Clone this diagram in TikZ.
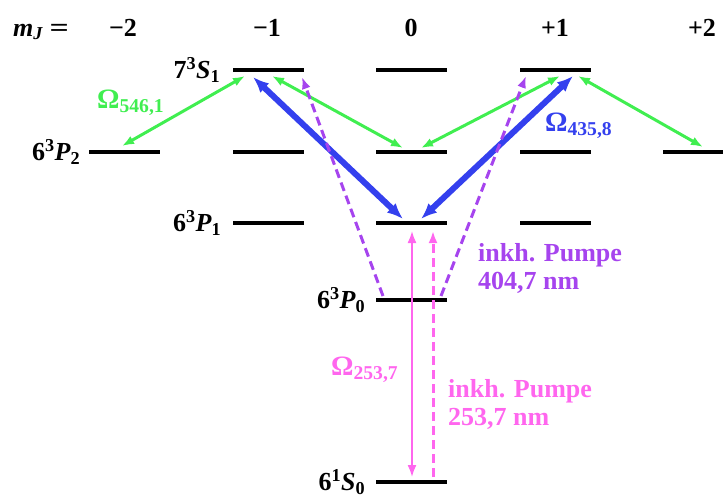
\documentclass[tikz,border=0pt]{standalone}
\usepackage{fontspec}
\setmainfont{Liberation Serif}
\usetikzlibrary{arrows.meta,positioning,calc}
\definecolor{transgreen}{RGB}{64,238,80}
\definecolor{transblue}{RGB}{52,64,238}
\definecolor{transviolet}{RGB}{166,68,238}
\definecolor{transpink}{RGB}{255,102,238}
\tikzset{
  energylevel/.style={fill=black, minimum width=71pt, minimum height=4.4pt,
    inner sep=0pt, outer sep=0pt},
  termlabel/.style={inner sep=0pt},
  omegalabel/.style={anchor=base west, inner sep=0pt,
    font=\fontsize{28}{30}\selectfont\bfseries},
  greenline/.style={{Latex[length=12pt,width=9pt]}-{Latex[length=12pt,width=9pt]},
    line width=3pt, transgreen},
  blueline/.style={{Latex[length=16pt,width=13pt]}-{Latex[length=16pt,width=13pt]},
    line width=6pt, transblue},
  pumpline/.style={-{Latex[length=12pt,width=9pt]}, line width=3pt,
    dash pattern=on 9pt off 5pt},
  pinkline/.style={{Latex[length=12pt,width=9pt]}-{Latex[length=12pt,width=9pt]},
    line width=1.8pt, transpink},
}
\begin{document}
\begin{tikzpicture}[x=1pt, y=-1pt, font=\fontsize{26}{28}\selectfont\bfseries]
  \useasboundingbox (0,0) rectangle (723,498);
  % m_J header
  \node[anchor=base west, inner sep=0pt] (mj) at (13,36)
    {\textit{m}\textsubscript{\textit{J}}\hspace{6pt}\scalebox{1.3}[1]{=}};
  \node[anchor=base] (hm2) at (123,36) {−2};
  \node[anchor=base] (hm1) at (267,36) {−1};
  \node[anchor=base] (h0) at (411,36) {0};
  \node[anchor=base] (hp1) at (555,36) {+1};
  \node[anchor=base] (hp2) at (702,36) {+2};
  % 7 3S1
  \node[energylevel] (Sa) at (268,70) {};
  \node[energylevel] (Sb) at (411,70) {};
  \node[energylevel] (Sc) at (555,70) {};
  % 6 3P2
  \node[energylevel] (Pa) at (124,152) {};
  \node[energylevel] (Pb) at (268,152) {};
  \node[energylevel] (Pc) at (411,152) {};
  \node[energylevel] (Pd) at (555,152) {};
  \node[energylevel] (Pe) at (698,152) {};
  % 6 3P1
  \node[energylevel] (Qa) at (268,223) {};
  \node[energylevel] (Qb) at (411,223) {};
  \node[energylevel] (Qc) at (555,223) {};
  % 6 3P0, 6 1S0
  \node[energylevel] (R) at (411,300) {};
  \node[energylevel] (G) at (411,482) {};
  % term symbols
  \node[termlabel, left=12pt of Sa] (lS) {7\textsuperscript{3}\textit{S}\textsubscript{1}};
  \node[termlabel, left=8pt of Pa] (lP2) {6\textsuperscript{3}\textit{P}\textsubscript{2}};
  \node[termlabel, left=11pt of Qa] (lP1) {6\textsuperscript{3}\textit{P}\textsubscript{1}};
  \node[termlabel, left=10pt of R] (lP0) {6\textsuperscript{3}\textit{P}\textsubscript{0}};
  \node[termlabel, left=10pt of G] (lG) {6\textsuperscript{1}\textit{S}\textsubscript{0}};
  % 546,1 nm
  \draw[greenline] ($(Pa)+(-2,-6)$) -- ($(Sa)+(-23,6)$);
  \draw[greenline] ($(Sa)+(4,6)$) -- ($(Pc)+(-8,-4)$);
  \draw[greenline] ($(Pc)+(10,-4)$) -- ($(Sc)+(5,6)$);
  \draw[greenline] ($(Sc)+(23,6)$) -- ($(Pe)+(5,-5)$);
  \node[omegalabel, text=transgreen] (om546) at (97,108) {Ω\textsubscript{546,1}};
  % 435,8 nm
  \draw[blueline] ($(Sa)+(-15,7)$) -- ($(Qb)+(-8,-4)$);
  \draw[blueline] ($(Sc)+(18,6)$) -- ($(Qb)+(10,-4)$);
  \node[omegalabel, text=transblue] (om435) at (545,131) {Ω\textsubscript{435,8}};
  % pump 404,7 nm
  \draw[pumpline, transviolet] ($(R)+(-28,-4)$) -- ($(Sa)+(34,7)$);
  \draw[pumpline, transviolet] ($(R)+(30,-4)$) -- ($(Sc)+(-29,6)$);
  \node[anchor=north west, align=left, inner sep=0pt, text=transviolet] (pump404) at (478,243)
    {inkh. Pumpe\\404,7 nm};
  % 253,7 nm
  \draw[pinkline] ($(Qb)+(1,8)$) -- ($(G)+(1,-5)$);
  \draw[pumpline, transpink] ($(G)+(22,-5)$) -- ($(Qb)+(22,8)$);
  \node[omegalabel, text=transpink] (om253) at (331,375) {Ω\textsubscript{253,7}};
  \node[anchor=north west, align=left, inner sep=0pt, text=transpink] (pump253) at (448,379)
    {inkh. Pumpe\\253,7 nm};
\end{tikzpicture}
\end{document}
